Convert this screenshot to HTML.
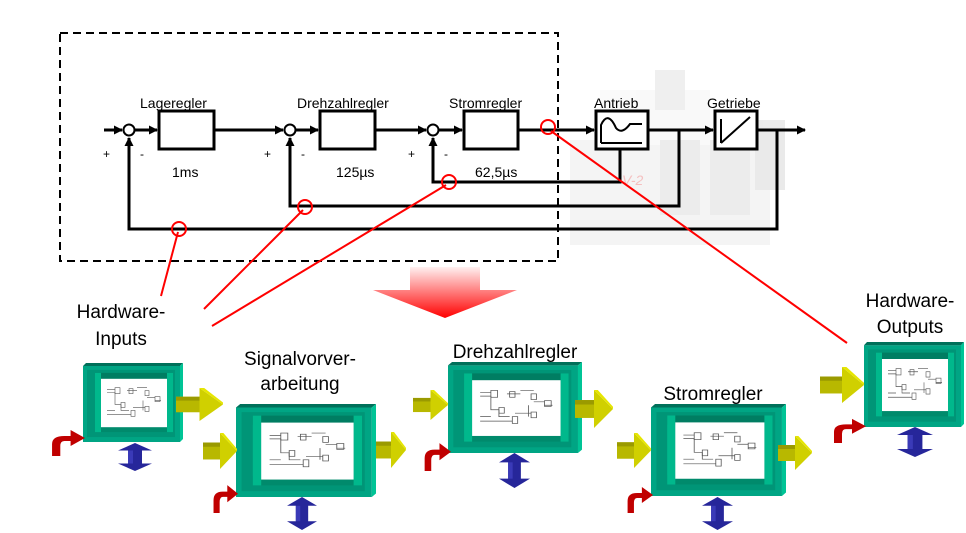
<!DOCTYPE html>
<html><head><meta charset="utf-8"><style>
html,body{margin:0;padding:0;background:#fff}
svg{display:block}
text{font-family:"Liberation Sans",sans-serif}
</style></head><body>
<svg width="966" height="533" viewBox="0 0 966 533" xmlns="http://www.w3.org/2000/svg">
<defs>
<linearGradient id="rg" x1="0" y1="0" x2="0" y2="1"><stop offset="0" stop-color="#fff0f0"/><stop offset="1" stop-color="#ff0000"/></linearGradient>
<marker id="ah" markerWidth="9" markerHeight="9" refX="8" refY="4.5" orient="auto" markerUnits="userSpaceOnUse"><path d="M0,0 L9,4.5 L0,9z" fill="#000"/></marker>
<symbol id="box" viewBox="0 0 100 80" preserveAspectRatio="none">
<rect x="0" y="3" width="97" height="77" fill="#00a584"/>
<polygon points="3,0 100,0 97,3 0,3" fill="#00705a"/>
<polygon points="97,3 100,0 100,77 97,80" fill="#00c496"/>
<rect x="4" y="7" width="88" height="68" fill="#009577"/>
<rect x="12" y="10" width="78" height="8" fill="#007d62"/>
<rect x="12" y="62" width="78" height="8" fill="#008a6c"/>
<rect x="12" y="10" width="6" height="60" fill="#00b88c"/>
<rect x="84" y="10" width="6" height="60" fill="#00b88c"/>
<rect x="18" y="16" width="66" height="49" fill="#fff"/>
<g stroke="#555" stroke-width="0.6" fill="none">
<path d="M24,27h8 M24,30h8 M24,48h8 M24,52h24 M32,30v12h6 M44,28h10 M54,25h10 M64,35h8 M50,45h12 M38,42v6h8 M60,38v10 M72,38h6"/>
<rect x="32" y="25" width="5" height="6"/><rect x="46" y="26" width="4" height="5"/><rect x="62" y="28" width="4" height="5"/><rect x="72" y="34" width="5" height="5"/><rect x="38" y="40" width="4" height="5"/><rect x="48" y="48" width="4" height="6"/><rect x="62" y="44" width="4" height="5"/>
</g>
</symbol>
<symbol id="ya" viewBox="0 0 40 34" preserveAspectRatio="none">
<rect x="0" y="9" width="22" height="16" fill="#b8b800"/>
<rect x="0" y="9" width="22" height="4" fill="#9a9a00"/>
<polygon points="20,0 40,17 20,34" fill="#d0d000"/>
<polygon points="20,0 24,0 40,15 40,17" fill="#e6e600"/>
</symbol>
<symbol id="ba" viewBox="0 0 34 30" preserveAspectRatio="none">
<polygon points="17,0 34,8 24,8 24,22 34,22 17,30 0,22 10,22 10,8 0,8" fill="#26269a"/>
<rect x="10" y="8" width="5" height="14" fill="#3a3ab8"/>
</symbol>
<symbol id="ra" viewBox="0 0 34 28" preserveAspectRatio="none">
<path d="M2,28 L2,16 Q2,8 14,8 L20,8 L20,2 L34,10 L20,18 L20,13 L14,13 Q10,13 10,18 L10,28z" fill="#c00000"/>
</symbol>
</defs>

<!-- machine background (faint) -->
<g opacity="0.15">
<rect x="570" y="140" width="200" height="105" fill="#bbb"/>
<rect x="600" y="90" width="110" height="55" fill="#ddd"/>
<rect x="655" y="70" width="30" height="40" fill="#999"/>
<rect x="660" y="140" width="40" height="75" fill="#888"/>
<rect x="710" y="140" width="40" height="75" fill="#888"/>
<rect x="755" y="120" width="30" height="70" fill="#777"/>
</g>
<text x="622" y="185" font-size="14" fill="#f4c0c0" font-style="italic">V-2</text>

<rect x="60" y="33" width="498" height="228" fill="none" stroke="#000" stroke-width="2" stroke-dasharray="8,5"/>

<g stroke="#000" stroke-width="3" fill="none">
<line x1="104" y1="130" x2="122" y2="130" marker-end="url(#ah)"/>
<line x1="135" y1="130" x2="157" y2="130" marker-end="url(#ah)"/>
<rect x="159" y="111" width="55" height="38" fill="#fff"/>
<line x1="214" y1="130" x2="283" y2="130" marker-end="url(#ah)"/>
<line x1="296" y1="130" x2="318" y2="130" marker-end="url(#ah)"/>
<rect x="320" y="111" width="55" height="38" fill="#fff"/>
<line x1="375" y1="130" x2="426" y2="130" marker-end="url(#ah)"/>
<line x1="439" y1="130" x2="462" y2="130" marker-end="url(#ah)"/>
<rect x="464" y="111" width="54" height="38" fill="#fff"/>
<line x1="518" y1="130" x2="594" y2="130" marker-end="url(#ah)"/>
<rect x="596" y="111" width="52" height="38" fill="#fff"/>
<line x1="648" y1="130" x2="713" y2="130" marker-end="url(#ah)"/>
<rect x="715" y="111" width="42" height="38" fill="#fff"/>
<line x1="757" y1="130" x2="805" y2="130" marker-end="url(#ah)"/>
<polyline points="620,149 620,182 433,182 433,138" marker-end="url(#ah)"/>
<polyline points="679,130 679,206 290,206 290,138" marker-end="url(#ah)"/>
<polyline points="777,130 777,229 129,229 129,138" marker-end="url(#ah)"/>
</g>
<g stroke="#000" stroke-width="2" fill="#fff">
<circle cx="129" cy="130" r="5.5"/><circle cx="290" cy="130" r="5.5"/><circle cx="433" cy="130" r="5.5"/>
</g>
<path d="M601,143 V125 Q608,110 616,128 Q622,135 630,124 H642 M601,143 H642" stroke="#000" stroke-width="2" fill="none"/>
<path d="M721,143 L750,117 M721,143 V119" stroke="#000" stroke-width="2" fill="none"/>

<g font-size="14" fill="#000">
<text x="140" y="108">Lageregler</text>
<text x="297" y="108">Drehzahlregler</text>
<text x="449" y="108">Stromregler</text>
<text x="594" y="108">Antrieb</text>
<text x="707" y="108">Getriebe</text>
<text x="172" y="177">1ms</text>
<text x="336" y="177">125µs</text>
<text x="475" y="177">62,5µs</text>
<text x="103" y="158" font-size="12">+</text><text x="140" y="158" font-size="12">-</text>
<text x="264" y="158" font-size="12">+</text><text x="301" y="158" font-size="12">-</text>
<text x="408" y="158" font-size="12">+</text><text x="444" y="158" font-size="12">-</text>
</g>

<g stroke="#f00" stroke-width="2" fill="none">
<circle cx="179" cy="229" r="7"/><circle cx="305" cy="207" r="7"/><circle cx="449" cy="182" r="7"/><circle cx="548" cy="127" r="7"/>
<line x1="178" y1="232" x2="161" y2="296"/>
<line x1="303" y1="210" x2="204" y2="309"/>
<line x1="446" y1="185" x2="212" y2="326"/>
<line x1="551" y1="131" x2="847" y2="343"/>
</g>

<polygon points="410,267 480,267 480,290 517,290 445,318 373,290 410,290" fill="url(#rg)"/>

<g font-size="19" fill="#000" text-anchor="middle">
<text x="121" y="318">Hardware-</text><text x="121" y="345">Inputs</text>
<text x="300" y="365">Signalvorver-</text><text x="300" y="390">arbeitung</text>
<text x="515" y="358">Drehzahlregler</text>
<text x="713" y="400">Stromregler</text>
<text x="910" y="307">Hardware-</text><text x="910" y="333">Outputs</text>
</g>

<use href="#box" x="83" y="363" width="100" height="79"/>
<use href="#box" x="236" y="404" width="140" height="93"/>
<use href="#box" x="448" y="362" width="134" height="91"/>
<use href="#box" x="651" y="404" width="135" height="92"/>
<use href="#box" x="864" y="342" width="100" height="85"/>

<use href="#ya" x="176" y="388" width="47" height="33"/>
<use href="#ya" x="203" y="433" width="34" height="36"/>
<use href="#ya" x="376" y="432" width="30" height="36"/>
<use href="#ya" x="413" y="390" width="35" height="30"/>
<use href="#ya" x="575" y="390" width="38" height="38"/>
<use href="#ya" x="617" y="433" width="34" height="35"/>
<use href="#ya" x="778" y="436" width="34" height="34"/>
<use href="#ya" x="820" y="367" width="44" height="36"/>

<use href="#ba" x="118" y="443" width="34" height="28"/>
<use href="#ba" x="287" y="497" width="30" height="33"/>
<use href="#ba" x="499" y="453" width="31" height="35"/>
<use href="#ba" x="702" y="497" width="31" height="33"/>
<use href="#ba" x="897" y="427" width="36" height="30"/>

<use href="#ra" x="50" y="428" width="35" height="28"/>
<use href="#ra" x="212" y="483" width="26" height="30"/>
<use href="#ra" x="423" y="441" width="28" height="30"/>
<use href="#ra" x="626" y="485" width="27" height="28"/>
<use href="#ra" x="832" y="417" width="34" height="26"/>
</svg>
</body></html>
